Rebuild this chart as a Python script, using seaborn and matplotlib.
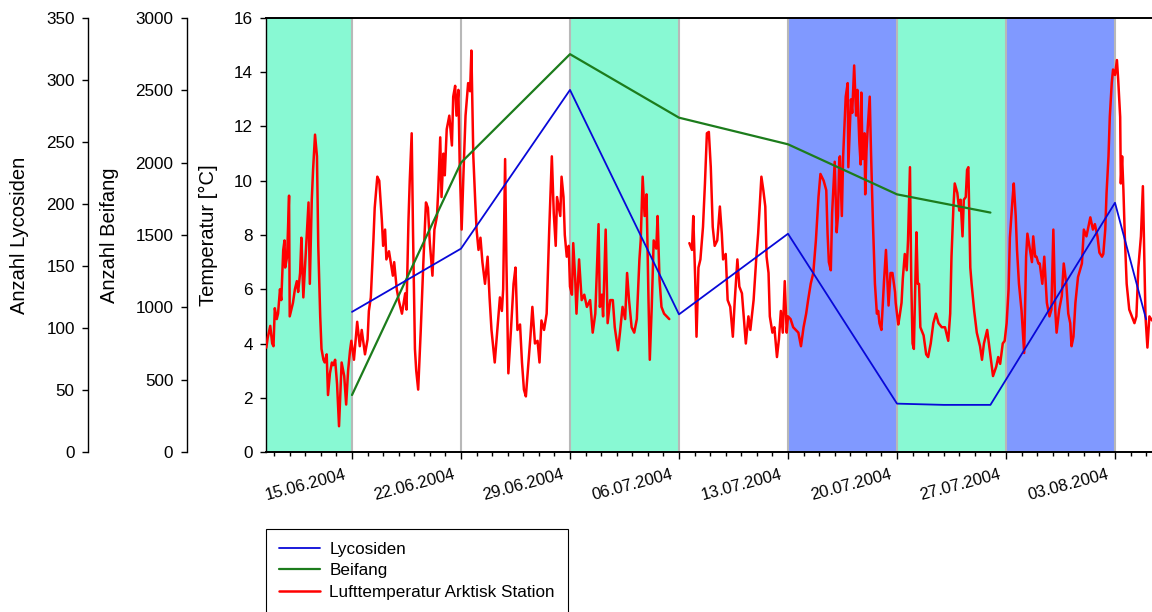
import numpy as np
import pandas as pd
import matplotlib
matplotlib.use("Agg")
import matplotlib.pyplot as plt
import matplotlib.dates as mdates
import matplotlib.transforms as mtransforms
from matplotlib.ticker import FixedLocator, MultipleLocator
import seaborn as sns

# Leerungstermine der Barberfallen
fangtermine = ["2004-06-15", "2004-06-22", "2004-06-29", "2004-07-06", "2004-07-13",
               "2004-07-20", "2004-07-23", "2004-07-26", "2004-08-03", "2004-08-05"]
lycosiden = [113, 164, 292, 111, 176, 39, 38, 38, 201, 107]

beifang_termine = ["2004-06-15", "2004-06-22", "2004-06-29", "2004-07-06", "2004-07-13",
                   "2004-07-20", "2004-07-23", "2004-07-26"]
beifang = [394, 2000, 2750, 2311, 2127, 1781, 1718, 1655]

# Lufttemperatur Arktisk Station: Stunden seit 09.06.2004 00:00, Werte in °C (None = Ausfall)
temp_stunden = [
    12, 14, 18, 21, 23, 25, 28, 30, 33, 35, 38, 40, 41, 44, 47, 48, 51, 53, 56, 59,
    61, 64, 66, 69, 72, 74, 77, 79, 82, 84, 87, 90, 92, 95, 97, 100, 102, 105, 107, 110,
    113, 115, 118, 121, 124, 128, 132, 135, 138, 141, 143, 147, 152, 156, 159, 164, 168, 170, 173, 177,
    179, 183, 186, 190, 192, 195, 197, 201, 207, 209, 213, 216, 218, 221, 223, 226, 228, 231, 233, 236,
    238, 241, 243, 246, 250, 254, 258, 261, 264, 268, 271, 275, 277, 280, 282, 285, 287, 290, 294, 298,
    300, 303, 305, 308, 310, 313, 316, 319, 323, 326, 328, 331, 334, 336, 339, 342, 345, 349, 353, 356,
    359, 362, 364, 368, 372, 375, 377, 380, 382, 385, 389, 393, 396, 399, 403, 406, 409, 412, 416, 419,
    422, 426, 430, 433, 436, 440, 444, 448, 452, 455, 458, 460, 465, 467, 470, 472, 475, 478, 480, 483,
    485, 488, 490, 494, 498, 502, 506, 511, 515, 519, 524, 526, 529, 531, 535, 538, 542, 546, 549, 554,
    557, 561, 565, 568, 571, 575, 579, 583, 587, 589, 592, 595, 598, 601, 603, 606, 609, 613, 615, 618,
    621, 625, 629, 633, 648,
    664, 668, 670, 673, 675, 678, 681, 685, 688, 691, 694, 697, 700, 703, 707, 711, 714, 716, 720, 723,
    727, 731, 734, 738, 741, 745, 748, 751, 755, 758, 763, 767, 770, 773, 775, 778, 781, 783, 786, 788,
    792, 795, 799, 802, 805, 808, 811, 814, 816, 820, 824, 828, 832, 836, 840, 844, 847, 851, 855, 859,
    863, 866, 871, 875, 877, 879, 882, 884, 888, 891, 893, 895, 896, 899, 901, 905, 908, 909, 912, 913,
    915, 918, 921, 923, 926, 928, 929, 931, 934, 935, 937, 939, 942, 944, 947, 950, 953, 955, 957, 960,
    964, 967, 971, 974, 977, 981, 982, 986, 988, 991, 993, 996, 999, 1001, 1004, 1006, 1008, 1010, 1014, 1016,
    1018, 1020, 1025, 1029, 1032, 1036, 1040, 1044, 1048, 1053, 1058, 1063, 1066, 1068, 1071, 1073, 1077, 1080, 1082, 1085,
    1087, 1090, 1092, 1094, 1097, 1099, 1103, 1107, 1112, 1115, 1118, 1123, 1127, 1132, 1137, 1140, 1143, 1147, 1150, 1153,
    1156, 1158, 1162, 1164, 1167, 1169, 1172, 1176, 1180, 1183, 1185, 1189, 1192, 1194, 1197, 1199, 1202, 1204, 1208, 1211,
    1215, 1219, 1222, 1225, 1228, 1230, 1234, 1238, 1241, 1245, 1248, 1251, 1253, 1256, 1259, 1263, 1269, 1272, 1276, 1282,
    1286, 1289, 1293, 1296, 1300, 1302, 1305, 1307, 1310, 1312, 1315, 1317, 1320, 1323, 1325, 1328, 1329, 1331, 1333, 1335,
    1338, 1342, 1346, 1350, 1353, 1356, 1360, 1363, 1365, 1367, 1370, 1373, 1377, 1380,
]
temp_werte = [
    3.85, 4.2, 4.65, 4.0, 3.9, 5.3, 4.9, 5.1, 6.0, 5.6, 7.45, 7.8, 6.8, 7.2, 9.45, 5.0, 5.3, 5.5, 6.0, 6.3,
    5.9, 6.6, 7.9, 5.7, 7.0, 7.9, 9.2, 6.2, 9.3, 10.4, 11.7, 10.9, 7.6, 5.0, 3.8, 3.4, 3.3, 3.6, 2.1, 2.9,
    3.3, 3.2, 3.4, 2.5, 0.95, 3.3, 2.8, 1.75, 3.0, 3.75, 4.1, 3.4, 4.8, 3.9, 4.5, 3.6, 4.15, 5.2, 5.7, 7.8,
    9.0, 10.15, 10.0, 8.55, 7.6, 8.2, 7.1, 7.4, 6.5, 7.0, 6.0, 5.6, 5.4, 5.1, 5.4, 5.85, 5.25, 8.5, 10.0, 11.75,
    8.2, 3.8, 3.0, 2.3, 4.5, 7.0, 9.2, 9.0, 7.7, 6.5, 8.2, 8.7, 9.7, 11.6, 9.4, 11.0, 10.2, 11.9, 12.4, 11.3,
    13.1, 13.5, 12.4, 13.35, 10.6, 8.2, 10.4, 12.4, 13.6, 13.3, 14.8, 10.9, 9.2, 8.2, 7.45, 7.9, 7.0, 6.2, 7.2, 5.7,
    4.5, 3.8, 3.3, 4.5, 5.7, 5.2, 6.0, 10.8, 7.0, 2.9, 4.5, 6.2, 6.8, 4.5, 4.7, 3.3, 2.3, 2.05, 3.3, 4.25,
    5.35, 4.0, 4.1, 3.3, 4.85, 4.5, 5.1, 8.2, 10.9, 8.8, 7.6, 9.4, 8.7, 10.15, 9.4, 8.0, 7.2, 7.6, 6.1, 5.8,
    7.7, 6.4, 5.1, 7.1, 5.6, 5.8, 5.35, 5.6, 4.4, 5.1, 8.4, 5.35, 5.8, 5.0, 8.2, 4.75, 5.6, 5.6, 4.6, 3.75,
    4.4, 5.35, 4.9, 6.6, 5.6, 4.6, 4.4, 4.9, 7.1, 7.8, 10.15, 8.7, 9.5, 5.6, 3.4, 5.35, 7.8, 7.5, 8.7, 6.35,
    5.35, 5.1, 5.0, 4.9, None,
    7.7, 7.45, 8.7, 6.35, 4.25, 6.8, 7.1, 8.3, 9.9, 11.75, 11.8, 10.5, 8.3, 7.6, 7.8, 9.05, 8.05, 7.1, 7.3, 5.6,
    5.35, 4.25, 5.6, 7.1, 6.1, 5.85, 4.9, 4.0, 5.0, 4.5, 5.6, 7.1, 8.05, 9.3, 10.15, 9.65, 9.05, 7.2, 6.6, 5.0,
    4.4, 4.6, 3.5, 4.15, 5.2, 4.4, 6.3, 4.4, 5.0, 4.9, 4.6, 4.5, 4.4, 3.9, 4.6, 5.1, 5.6, 6.2, 6.6, 7.8,
    9.4, 10.25, 10.0, 9.65, 8.05, 7.0, 6.7, 8.8, 10.7, 8.1, 8.7, 10.8, 10.9, 8.7, 10.9, 13.1, 13.6, 10.5, 12.4, 13.0,
    12.5, 14.25, 12.4, 13.35, 11.4, 10.6, 13.25, 10.8, 11.75, 9.5, 11.1, 12.0, 13.1, 11.0, 8.4, 6.2, 5.1, 5.2, 4.75, 4.5,
    6.3, 7.45, 5.4, 6.6, 6.6, 5.9, 5.5, 4.7, 5.0, 5.5, 6.4, 7.3, 6.7, 7.8, 10.5, 6.3, 4.0, 3.8, 8.1, 6.2,
    6.2, 4.6, 4.3, 3.6, 3.5, 4.0, 4.75, 5.1, 4.75, 4.6, 4.6, 4.1, 5.1, 7.2, 9.05, 9.9, 9.55, 8.9, 9.3, 7.95,
    9.3, 9.4, 10.4, 10.5, 6.8, 6.2, 5.2, 4.4, 3.9, 3.4, 4.0, 4.5, 3.75, 2.8, 3.15, 3.5, 3.25, 4.0, 4.1, 4.75,
    6.0, 7.9, 9.3, 9.9, 8.7, 7.45, 6.2, 5.2, 3.65, 7.2, 8.05, 7.45, 7.0, 7.95, 7.2, 7.2, 6.95, 6.95, 6.2, 7.2,
    5.5, 5.0, 5.25, 8.2, 5.2, 4.4, 5.25, 5.75, 6.95, 6.2, 5.1, 4.75, 3.9, 4.25, 5.5, 6.45, 6.95, 8.2, 7.95, 8.65,
    8.2, 8.4, 7.95, 7.35, 7.2, 7.3, 8.2, 9.55, 10.9, 12.35, 13.6, 14.1, 13.9, 14.45, 13.7, 12.35, 9.9, 10.9, 9.65, 8.05,
    6.2, 5.25, 5.0, 4.75, 5.0, 6.8, 7.95, 9.8, 7.45, 5.0, 3.85, 5.0, 4.85, 4.9,
]

# Fangwochen mit Hintergrundfarbe
wochen_start = ["2004-06-01", "2004-06-29", "2004-07-13", "2004-07-20", "2004-07-27"]
wochen_ende = ["2004-06-15", "2004-07-06", "2004-07-20", "2004-07-27", "2004-08-03"]
wochen_farbe = ["#88F9D3", "#88F9D3", "#8099FF", "#88F9D3", "#8099FF"]

datum_ticks = ["2004-06-15", "2004-06-22", "2004-06-29", "2004-07-06",
               "2004-07-13", "2004-07-20", "2004-07-27", "2004-08-03"]
zeitraum = ("2004-06-09 11:27", "2004-08-05 09:03")

sns.set_style("ticks")
plt.rcParams["font.family"] = ["Liberation Sans", "DejaVu Sans"]
plt.rcParams.update({
    "text.color": "black", "axes.labelcolor": "black", "axes.edgecolor": "black",
    "xtick.color": "black", "ytick.color": "black",
})

fig = plt.figure(figsize=(11.52, 6.12), dpi=100)
ax = fig.add_axes([266 / 1152, 160 / 612, 886 / 1152, 434 / 612])
ax_bei = ax.twinx()
ax_lyc = ax.twinx()

# Temperatur (Hauptachse)
t0 = pd.Timestamp("2004-06-09")
temp = pd.DataFrame({
    "Zeit": t0 + pd.to_timedelta(temp_stunden, unit="h"),
    "Temperatur": np.array(temp_werte, dtype=float),
})
temp["Abschnitt"] = temp["Temperatur"].isna().cumsum()
temp = temp.dropna()

for s, e, c in zip(wochen_start, wochen_ende, wochen_farbe):
    ax.axvspan(pd.Timestamp(s), pd.Timestamp(e), color=c, lw=0, zorder=0)

sns.lineplot(data=temp, x="Zeit", y="Temperatur", units="Abschnitt", estimator=None,
             sort=False, color="#FF0000", lw=1.8, ax=ax, zorder=3,
             label="Lufttemperatur Arktisk Station")

lyc = pd.DataFrame({"Datum": pd.to_datetime(fangtermine), "Anzahl": lycosiden})
bei = pd.DataFrame({"Datum": pd.to_datetime(beifang_termine), "Anzahl": beifang})
sns.lineplot(data=lyc, x="Datum", y="Anzahl", color="#0808D8", lw=1.3, ax=ax_lyc,
             label="Lycosiden")
sns.lineplot(data=bei, x="Datum", y="Anzahl", color="#1C7C1C", lw=1.6, ax=ax_bei,
             label="Beifang")

eintraege = {}
for a in (ax_lyc, ax_bei, ax):
    for h, l in zip(*a.get_legend_handles_labels()):
        eintraege.setdefault(l, h)
    if a.get_legend() is not None:
        a.get_legend().remove()

# x-Achse
ax.set_xlim(pd.Timestamp(zeitraum[0]), pd.Timestamp(zeitraum[1]))
ax.xaxis.set_major_locator(FixedLocator(mdates.date2num(pd.to_datetime(datum_ticks))))
ax.xaxis.set_major_formatter(mdates.DateFormatter("%d.%m.%Y"))
ax.xaxis.set_minor_locator(mdates.DayLocator())
ax.grid(axis="x", which="major", color="#B8B8B8", lw=1.5)
ax.set_axisbelow(True)
ax.set_xlabel("")
ax.tick_params(axis="x", which="major", direction="out", length=5, width=1,
               labelsize=12, pad=3, colors="black")
ax.tick_params(axis="x", which="minor", direction="out", length=3, width=1, colors="black")
verschiebung = mtransforms.ScaledTranslation(-8 / 100, -4 / 100, fig.dpi_scale_trans)
for lab in ax.get_xticklabels():
    lab.set_rotation(15)
    lab.set_ha("right")
    lab.set_rotation_mode("anchor")
    lab.set_transform(lab.get_transform() + verschiebung)

# y-Achsen
ax.set_ylim(0, 16)
ax.yaxis.set_major_locator(MultipleLocator(2))
ax.set_ylabel("Temperatur [°C]", fontsize=14.5)
ax.yaxis.set_label_coords(-0.065, 0.5)
ax.yaxis.label.set_va("center")

ax_bei.set_ylim(0, 3000)
ax_bei.yaxis.set_major_locator(MultipleLocator(500))
ax_bei.set_ylabel("Anzahl Beifang", fontsize=14.5)

ax_lyc.set_ylim(0, 350)
ax_lyc.yaxis.set_major_locator(MultipleLocator(50))
ax_lyc.set_ylabel("Anzahl Lycosiden", fontsize=14.5)

for a, off, lx in ((ax_bei, 57.2, -0.1772), (ax_lyc, 128.2, -0.2782)):
    a.set_xlabel("")
    a.spines["left"].set_visible(True)
    a.spines["left"].set_position(("outward", off))
    for side in ("right", "top", "bottom"):
        a.spines[side].set_visible(False)
    a.yaxis.set_ticks_position("left")
    a.yaxis.set_label_position("left")
    a.yaxis.set_label_coords(lx, 0.5)
    a.yaxis.label.set_va("center")

for a in (ax, ax_bei, ax_lyc):
    a.tick_params(axis="y", direction="out", length=4.5, width=1, labelsize=12.3,
                  pad=5, colors="black")
    a.spines["left"].set_color("black")
    a.spines["left"].set_linewidth(1.0)

ax.spines["right"].set_visible(False)
ax.spines["top"].set_visible(True)
ax.spines["top"].set_linewidth(1.4)
ax.spines["bottom"].set_linewidth(1.4)
ax.spines["top"].set_color("black")
ax.spines["bottom"].set_color("black")

leg = fig.legend(list(eintraege.values()), list(eintraege.keys()), loc="upper left",
                 bbox_to_anchor=(266 / 1152, 1 - 529 / 612), bbox_transform=fig.transFigure,
                 frameon=True, fancybox=False, framealpha=1, edgecolor="black",
                 borderaxespad=0, borderpad=0.75, labelspacing=0.38, handlelength=2.4,
                 handletextpad=0.55, fontsize=12.3)
leg.get_frame().set_linewidth(0.8)

fig.savefig("out.png", dpi=100)
